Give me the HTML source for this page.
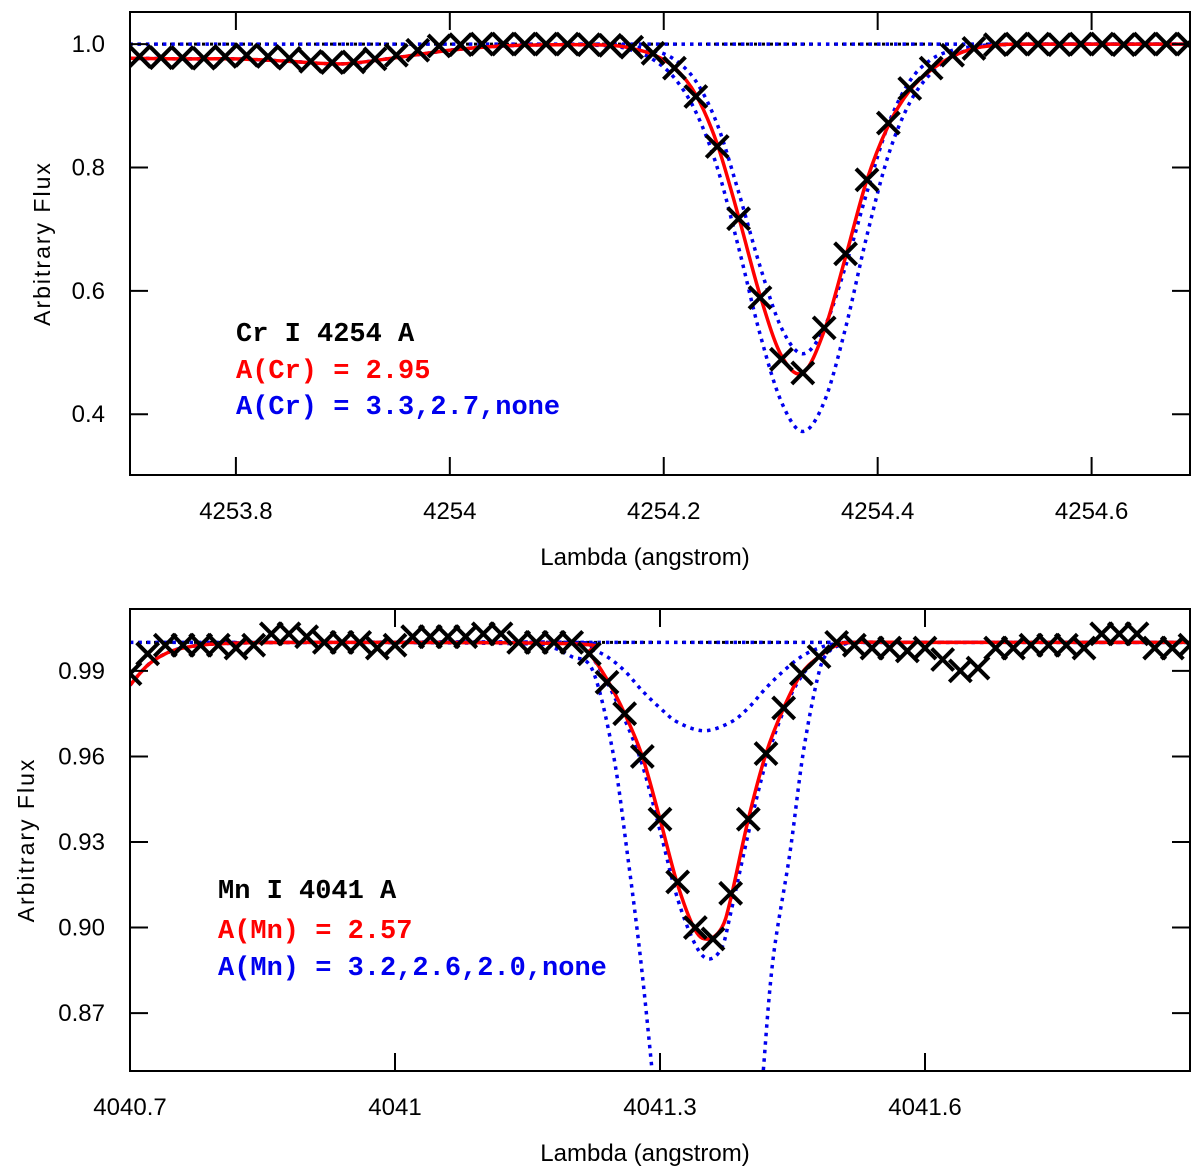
<!DOCTYPE html>
<html><head><meta charset="utf-8"><style>
html,body{margin:0;padding:0;background:#fff;width:1200px;height:1169px;overflow:hidden;}
svg{display:block;overflow:hidden;}
text{font-family:"Liberation Sans",sans-serif;}
.ann{font-family:"Liberation Mono",monospace;font-weight:bold;font-size:27px;}
</style></head><body>
<svg id="chart" width="1200" height="1169" viewBox="0 0 1200 1169" xmlns="http://www.w3.org/2000/svg">
<defs>
<clipPath id="clipTop"><rect x="130" y="12" width="1060" height="463"/></clipPath>
<clipPath id="clipBot"><rect x="130" y="609" width="1060" height="462"/></clipPath>
</defs>
<g id="top"></g>
<g id="bot"></g>
</svg>
<script>
// ---- Top panel (Cr I 4254) ----
const crXTicks = [4253.8, 4254.0, 4254.2, 4254.4, 4254.6];
const crXTickLabels = ["4253.8", "4254", "4254.2", "4254.4", "4254.6"];
const crYTicks = [0.4, 0.6, 0.8, 1.0];
const crYTickLabels = ["0.4", "0.6", "0.8", "1.0"];
const crObsLambda = [4253.71,4253.73,4253.75,4253.77,4253.79,4253.81,4253.83,4253.85,4253.87,4253.89,4253.91,4253.93,4253.95,4253.97,4253.99,4254.01,4254.03,4254.05,4254.07,4254.09,4254.11,4254.13,4254.15,4254.17,4254.19,4254.21,4254.23,4254.25,4254.27,4254.29,4254.31,4254.33,4254.35,4254.37,4254.39,4254.41,4254.43,4254.45,4254.47,4254.49,4254.51,4254.53,4254.55,4254.57,4254.59,4254.61,4254.63,4254.65,4254.67,4254.69];
const crObsFlux = [0.98,0.978,0.978,0.977,0.98,0.982,0.98,0.977,0.972,0.97,0.971,0.976,0.982,0.99,0.997,0.999,1.0,1.0,1.0,1.0,1.0,0.999,0.998,0.995,0.985,0.961,0.915,0.834,0.717,0.589,0.489,0.467,0.54,0.66,0.78,0.872,0.928,0.961,0.982,0.993,0.999,1.0,1.0,0.999,1.0,1.0,0.999,1.0,1.0,1.0];
const crFitLambda = [4253.70,4253.75,4253.80,4253.85,4253.90,4253.95,4254.00,4254.05,4254.10,4254.15,4254.17,4254.19,4254.21,4254.23,4254.25,4254.27,4254.29,4254.31,4254.33,4254.35,4254.37,4254.39,4254.41,4254.43,4254.45,4254.47,4254.49,4254.51,4254.53,4254.60,4254.70];
const crFitFlux = [0.977,0.976,0.976,0.972,0.968,0.978,0.99,0.997,0.999,0.998,0.993,0.983,0.962,0.918,0.838,0.72,0.593,0.495,0.467,0.535,0.655,0.78,0.868,0.925,0.958,0.98,0.993,0.998,1.0,1.0,1.0];
const crAltLambda = [4253.70,4253.75,4253.80,4253.85,4253.90,4253.95,4254.00,4254.05,4254.10,4254.15,4254.17,4254.19,4254.21,4254.23,4254.25,4254.27,4254.29,4254.31,4254.33,4254.35,4254.37,4254.39,4254.41,4254.43,4254.45,4254.47,4254.49,4254.51,4254.55,4254.70];
const crHighFlux = [0.977,0.976,0.976,0.972,0.968,0.978,0.99,0.997,0.999,0.997,0.99,0.975,0.945,0.89,0.80,0.67,0.53,0.42,0.372,0.42,0.54,0.69,0.82,0.905,0.953,0.98,0.993,0.998,1.0,1.0];
const crLowFlux = [0.977,0.976,0.976,0.972,0.968,0.978,0.99,0.997,0.999,0.999,0.996,0.99,0.975,0.94,0.87,0.76,0.64,0.54,0.498,0.54,0.64,0.76,0.87,0.94,0.975,0.99,0.996,0.999,1.0,1.0];
const crNoneLambda = [4253.70, 4254.70];
const crNoneFlux = [1.0, 1.0];

// ---- Bottom panel (Mn I 4041) ----
const mnXTicks = [4040.7, 4041.0, 4041.3, 4041.6];
const mnXTickLabels = ["4040.7", "4041", "4041.3", "4041.6"];
const mnYTicks = [0.87, 0.90, 0.93, 0.96, 0.99];
const mnYTickLabels = ["0.87", "0.90", "0.93", "0.96", "0.99"];
const mnObsLambda = [4040.70,4040.72,4040.74,4040.76,4040.78,4040.80,4040.82,4040.84,4040.86,4040.88,4040.90,4040.92,4040.94,4040.96,4040.98,4041.00,4041.02,4041.04,4041.06,4041.08,4041.10,4041.12,4041.14,4041.16,4041.18,4041.20,4041.22,4041.24,4041.26,4041.28,4041.30,4041.32,4041.34,4041.36,4041.38,4041.40,4041.42,4041.44,4041.46,4041.48,4041.50,4041.52,4041.54,4041.56,4041.58,4041.60,4041.62,4041.64,4041.66,4041.68,4041.70,4041.72,4041.74,4041.76,4041.78,4041.80,4041.82,4041.84,4041.86,4041.88,4041.90];
const mnObsFlux = [0.989,0.996,0.999,0.999,0.999,0.999,0.998,0.999,1.003,1.003,1.002,1.0,1.0,1.0,0.998,0.999,1.002,1.002,1.002,1.002,1.003,1.003,1.0,1.0,1.0,1.0,0.996,0.986,0.975,0.96,0.938,0.916,0.9,0.896,0.912,0.938,0.961,0.977,0.989,0.995,1.0,0.999,0.998,0.998,0.997,0.998,0.994,0.99,0.991,0.998,0.998,0.999,0.999,0.999,0.998,1.003,1.003,1.003,0.998,0.998,0.999];
const mnFitLambda = [4040.70,4040.72,4040.74,4040.76,4040.80,4040.90,4041.20,4041.22,4041.24,4041.26,4041.28,4041.30,4041.32,4041.34,4041.355,4041.37,4041.38,4041.40,4041.42,4041.44,4041.46,4041.48,4041.50,4041.52,4041.60,4041.90];
const mnFitFlux = [0.985,0.992,0.996,0.998,0.9995,1.0,0.9995,0.996,0.987,0.975,0.96,0.938,0.915,0.899,0.896,0.9,0.91,0.938,0.961,0.977,0.989,0.995,0.999,1.0,1.0,1.0];
const mnMidFlux = [0.985,0.992,0.996,0.998,0.9995,1.0,0.9995,0.996,0.986,0.973,0.957,0.934,0.91,0.894,0.889,0.893,0.905,0.933,0.958,0.976,0.988,0.995,0.999,1.0,1.0,1.0];
const mnWeakLambda = [4040.70,4040.72,4040.74,4040.76,4040.80,4040.90,4041.20,4041.22,4041.24,4041.26,4041.28,4041.30,4041.32,4041.35,4041.38,4041.40,4041.42,4041.44,4041.46,4041.48,4041.50,4041.55,4041.90];
const mnWeakFlux = [0.985,0.992,0.996,0.998,0.9995,1.0,1.0,0.998,0.995,0.99,0.983,0.977,0.972,0.969,0.972,0.977,0.984,0.99,0.995,0.998,0.9995,1.0,1.0];
const mnStrongLambda = [4040.70,4040.72,4040.74,4040.76,4040.80,4040.90,4041.15,4041.18,4041.20,4041.224,4041.247,4041.263,4041.278,4041.291,4041.30,4041.355,4041.41,4041.417,4041.428,4041.447,4041.462,4041.478,4041.489,4041.51,4041.55,4041.90];
const mnStrongFlux = [0.985,0.992,0.996,0.998,0.9995,1.0,0.9995,0.998,0.995,0.99,0.961,0.926,0.889,0.85,0.82,0.78,0.82,0.85,0.889,0.926,0.961,0.987,0.996,0.9995,1.0,1.0];
const mnNoneLambda = [4040.70, 4041.90];
const mnNoneFlux = [1.0, 1.0];

const NS = "http://www.w3.org/2000/svg";
function mk(parent, tag, attrs, name, txt) {
  const el = document.createElementNS(NS, tag);
  for (const k in attrs) el.setAttribute(k, attrs[k]);
  
  
  if (txt !== undefined) el.textContent = txt;
  parent.appendChild(el);
  return el;
}
function linScale(d0, d1, r0, r1) { return v => r0 + (v - d0) * (r1 - r0) / (d1 - d0); }
function smoothPath(xs, ys) {
  let d = "M" + xs[0].toFixed(2) + "," + ys[0].toFixed(2);
  for (let i = 0; i < xs.length - 1; i++) {
    const x0 = xs[Math.max(i - 1, 0)], y0 = ys[Math.max(i - 1, 0)];
    const x1 = xs[i], y1 = ys[i], x2 = xs[i + 1], y2 = ys[i + 1];
    const x3 = xs[Math.min(i + 2, xs.length - 1)], y3 = ys[Math.min(i + 2, xs.length - 1)];
    const c1x = x1 + (x2 - x0) / 6, c1y = y1 + (y2 - y0) / 6;
    const c2x = x2 - (x3 - x1) / 6, c2y = y2 - (y3 - y1) / 6;
    d += " C" + c1x.toFixed(2) + "," + c1y.toFixed(2) + " " + c2x.toFixed(2) + "," + c2y.toFixed(2) + " " + x2.toFixed(2) + "," + y2.toFixed(2);
  }
  return d;
}

function drawPanel(g, cfg) {
  const X = linScale(cfg.xd[0], cfg.xd[1], cfg.L, cfg.R);
  const Y = linScale(cfg.yd[0], cfg.yd[1], cfg.B, cfg.T);
  const plot = mk(g, 'g', {'clip-path': 'url(#' + cfg.clip + ')'}, 'plot-area');
  mk(plot, 'line', {x1: cfg.L, x2: cfg.R, y1: Y(1.0), y2: Y(1.0), stroke: '#000', 'stroke-width': 3, 'stroke-dasharray': '3,5'}, 'continuum-line');
  cfg.blue.forEach((s) => {
    mk(plot, 'path', {d: smoothPath(s.l.map(X), s.f.map(Y)), fill: 'none', stroke: '#0000ee', 'stroke-width': 3.5, 'stroke-dasharray': '3.5,5', 'stroke-linecap': 'butt'}, 'blue-model-' + s.n);
  });
  mk(plot, 'path', {d: smoothPath(cfg.red.l.map(X), cfg.red.f.map(Y)), fill: 'none', stroke: '#ff0000', 'stroke-width': 3.5}, 'red-best-fit');
  const obs = mk(plot, 'g', {stroke: '#000', 'stroke-width': 4}, 'observed-points');
  cfg.obsL.forEach((l, i) => {
    const cx = X(l), cy = Y(cfg.obsF[i]), s = 11;
    const c = document.createElementNS(NS, 'path');
    c.setAttribute('d', `M${cx - s},${cy - s}L${cx + s},${cy + s}M${cx - s},${cy + s}L${cx + s},${cy - s}`);
    
    
    obs.appendChild(c);
  });
  mk(g, 'rect', {x: cfg.L, y: cfg.T, width: cfg.R - cfg.L, height: cfg.B - cfg.T, fill: 'none', stroke: '#000', 'stroke-width': 2}, 'plot-frame');
  cfg.xt.forEach((t, i) => {
    const x = X(t);
    mk(g, 'line', {x1: x, x2: x, y1: cfg.B, y2: cfg.B - 18, stroke: '#000', 'stroke-width': 2}, 'x-tick');
    mk(g, 'line', {x1: x, x2: x, y1: cfg.T, y2: cfg.T + 18, stroke: '#000', 'stroke-width': 2}, 'x-tick-top');
    mk(g, 'text', {x: x, y: cfg.B + 44, 'text-anchor': 'middle', 'font-size': 24}, 'x-tick-label', cfg.xtl[i]);
  });
  cfg.yt.forEach((t, i) => {
    const y = Y(t);
    mk(g, 'line', {x1: cfg.L, x2: cfg.L + 18, y1: y, y2: y, stroke: '#000', 'stroke-width': 2}, 'y-tick');
    mk(g, 'line', {x1: cfg.R, x2: cfg.R - 18, y1: y, y2: y, stroke: '#000', 'stroke-width': 2}, 'y-tick-right');
    mk(g, 'text', {x: cfg.yLabX, y: y + 8, 'text-anchor': 'end', 'font-size': 24}, 'y-tick-label', cfg.ytl[i]);
  });
  mk(g, 'text', {x: (cfg.L + cfg.R) / 2 - 15, y: cfg.B + 90, 'text-anchor': 'middle', 'font-size': 24}, 'x-axis-title', 'Lambda (angstrom)');
  mk(g, 'text', {x: 0, y: 0, transform: `translate(${cfg.yTitleX},${(cfg.T + cfg.B) / 2}) rotate(-90)`, 'text-anchor': 'middle', 'font-size': 23, 'letter-spacing': '2'}, 'y-axis-title', 'Arbitrary Flux');
  cfg.ann.forEach(a => {
    mk(g, 'text', {x: a.x, y: a.y, fill: a.c, class: 'ann'}, a.n, a.t);
  });
}

drawPanel(document.getElementById('top'), {
  L: 130, R: 1190, T: 12, B: 475, clip: 'clipTop',
  xd: [4253.701, 4254.692], yd: [0.3015, 1.052],
  yLabX: 105, yTitleX: 50,
  xt: crXTicks, xtl: crXTickLabels, yt: crYTicks, ytl: crYTickLabels,
  obsL: crObsLambda, obsF: crObsFlux,
  red: {l: crFitLambda, f: crFitFlux},
  blue: [{n: 'none', l: crNoneLambda, f: crNoneFlux}, {n: 'high', l: crAltLambda, f: crHighFlux}, {n: 'low', l: crAltLambda, f: crLowFlux}],
  ann: [{x: 236, y: 341, c: '#000', t: 'Cr I 4254 A', n: 'line-label'},
        {x: 236, y: 378, c: '#ff0000', t: 'A(Cr) = 2.95', n: 'fit-label'},
        {x: 236, y: 414, c: '#0000ee', t: 'A(Cr) = 3.3,2.7,none', n: 'models-label'}]
});
drawPanel(document.getElementById('bot'), {
  L: 130, R: 1190, T: 609, B: 1071, clip: 'clipBot',
  xd: [4040.7, 4041.9], yd: [0.8497, 1.0117],
  yLabX: 105, yTitleX: 34,
  xt: mnXTicks, xtl: mnXTickLabels, yt: mnYTicks, ytl: mnYTickLabels,
  obsL: mnObsLambda, obsF: mnObsFlux,
  red: {l: mnFitLambda, f: mnFitFlux},
  blue: [{n: 'none', l: mnNoneLambda, f: mnNoneFlux}, {n: 'strong', l: mnStrongLambda, f: mnStrongFlux}, {n: 'mid', l: mnFitLambda, f: mnMidFlux}, {n: 'weak', l: mnWeakLambda, f: mnWeakFlux}],
  ann: [{x: 218, y: 898, c: '#000', t: 'Mn I 4041 A', n: 'line-label'},
        {x: 218, y: 938, c: '#ff0000', t: 'A(Mn) = 2.57', n: 'fit-label'},
        {x: 218, y: 975, c: '#0000ee', t: 'A(Mn) = 3.2,2.6,2.0,none', n: 'models-label'}]
});
</script>
</body></html>
